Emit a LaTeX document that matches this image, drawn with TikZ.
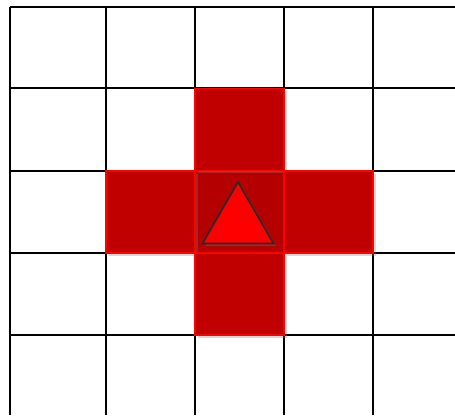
\documentclass[tikz,border=0pt]{standalone}
\usetikzlibrary{shapes.geometric,shadows}
\definecolor{cellred}{HTML}{C00000}
\definecolor{edgered}{HTML}{FF0000}
\definecolor{tipgray}{HTML}{2A2A2A}
\begin{document}
\begin{tikzpicture}[x=0.02cm, y=-0.02cm,
  gridline/.style={line width=1.2pt, black},
  cell/.style={draw=edgered, fill=cellred, line width=1pt, inner sep=0pt,
    minimum width=1.78cm, minimum height=1.64cm,
    drop shadow={opacity=0.3, shadow xshift=1.5pt, shadow yshift=-1.5pt}},
  marker/.style={regular polygon, regular polygon sides=3, minimum size=1.64cm,
    inner sep=0pt, draw=tipgray, fill=edgered, line width=1pt,
    drop shadow={opacity=0.3, shadow xshift=1.5pt, shadow yshift=-1.5pt}}]
\useasboundingbox (0,0) rectangle (455,415);
% board
\fill[white] (0,0) rectangle (455,415);
\foreach \x in {10,106,195,284,373}
  \draw[gridline] (\x,7) -- (\x,415);
\foreach \y in {7,88,171,253,335}
  \draw[gridline] (10,\y) -- (455,\y);
% reach of the piece
\node[cell, fill=cellred!94!black] (centre) at (239.5,212) {};
\node[cell] (up)    at (239.5,129.5) {};
\node[cell] (left)  at (150.5,212) {};
\node[cell] (right) at (328.5,212) {};
\node[cell] (down)  at (239.5,294) {};
% piece
\node[marker] (piece) at (238,223) {};
\end{tikzpicture}
\end{document}
